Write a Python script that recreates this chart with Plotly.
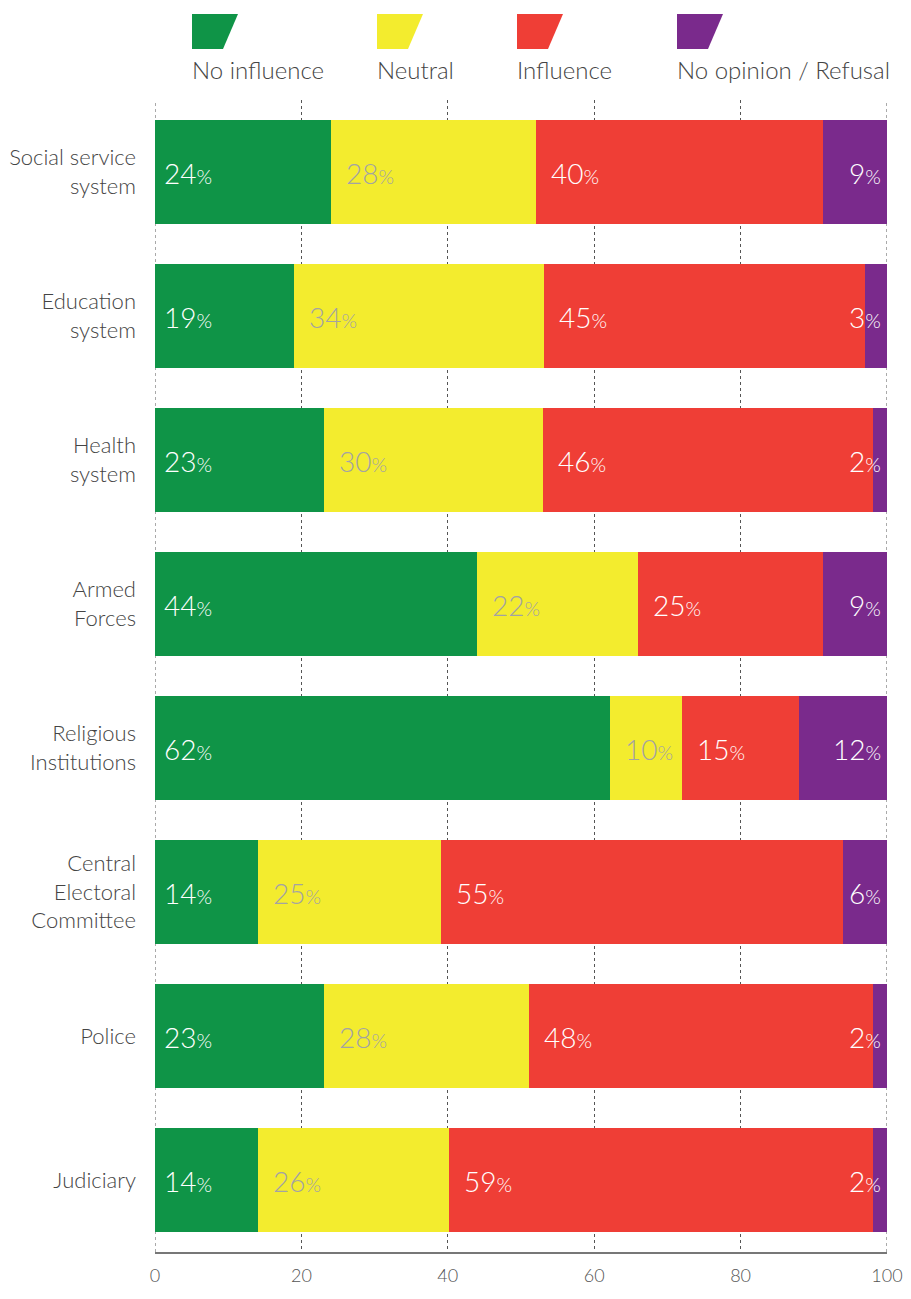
import plotly.graph_objects as go

categories = ["Social service<br>system", "Education<br>system", "Health<br>system", "Armed<br>Forces",
              "Religious<br>Institutions", "Central<br>Electoral<br>Committee", "Police", "Judiciary"]
series_names = ["No influence", "Neutral", "Influence", "No opinion / Refusal"]
# rounded percentages as printed on the bars
no_influence = [24, 19, 23, 44, 62, 14, 23, 14]
neutral = [28, 34, 30, 22, 10, 25, 28, 26]
influence = [40, 45, 46, 25, 15, 55, 48, 59]
no_opinion = [9, 3, 2, 9, 12, 6, 2, 2]
# segment lengths as drawn in the picture (unrounded shares)
no_influence_len = [24.0, 19.0, 23.1, 44.0, 62.1, 14.1, 23.1, 14.1]
neutral_len = [28.0, 34.1, 29.9, 22.0, 9.9, 25.0, 28.0, 26.0]
influence_len = [39.2, 43.9, 45.1, 25.2, 16.0, 54.9, 47.0, 58.0]
no_opinion_len = [8.8, 3.0, 1.9, 8.8, 12.0, 6.0, 1.9, 1.9]
x_ticks = [0, 20, 40, 60, 80, 100]

colors = ["#0F9447", "#F3EC2E", "#EF3E36", "#7A2A8C"]
label_colors = ["white", "#A3A3A3", "white", "white"]
FONT = "Lato"

series = [no_influence, neutral, influence, no_opinion]
lengths = [no_influence_len, neutral_len, influence_len, no_opinion_len]
fig = go.Figure()
for name, vals, col in zip(series_names, lengths, colors):
    fig.add_trace(go.Bar(y=categories, x=vals, name=name, orientation="h",
                         marker=dict(color=col, line=dict(width=0)), width=0.72,
                         showlegend=False))

def lab(v):
    return f'{v}<span style="font-size:20px">%</span>'

annotations = []
for i, cat in enumerate(categories):
    start = 0
    for s in range(4):
        v = series[s][i]
        if s < 3:
            annotations.append(dict(x=start, y=cat, xref="x", yref="y", text=lab(v),
                                    showarrow=False, xanchor="left", yanchor="middle",
                                    xshift=7 if s == 0 else 13, yshift=-1,
                                    font=dict(family=FONT, size=28, color=label_colors[s], weight=300)))
        else:
            annotations.append(dict(x=100, y=cat, xref="x", yref="y", text=lab(v),
                                    showarrow=False, xanchor="right", yanchor="middle",
                                    xshift=-4, yshift=-1,
                                    font=dict(family=FONT, size=28, color=label_colors[s], weight=300)))
        start += lengths[s][i]

# page body has an 8px margin on every side: keep the figure inside the window
OFF = 8
FW, FH = 911 - 2 * OFF, 1299 - 2 * OFF
L, R, B, T = 155, 887, 1252, 100   # plot area edges in screenshot pixels
W, H = R - L, B - T
def px(x):
    return (x - L) / W
def py(y):
    return (B - y) / H

legend_x = [192, 377, 517, 677]
shapes = []
for lx, col, name in zip(legend_x, colors, series_names):
    path = (f"M {px(lx)} {py(14)} L {px(lx + 46)} {py(14)} L {px(lx + 31)} {py(49)} "
            f"L {px(lx)} {py(49)} Z")
    shapes.append(dict(type="path", xref="paper", yref="paper", path=path,
                       fillcolor=col, line=dict(width=0)))
    annotations.append(dict(x=px(lx - 2), y=py(70), xref="paper", yref="paper", text=name,
                            showarrow=False, xanchor="left", yanchor="middle",
                            font=dict(family=FONT, size=24, color="#444444", weight=300)))

for xv in (x_ticks[0], x_ticks[-1]):
    shapes.append(dict(type="line", xref="x", yref="paper", x0=xv, x1=xv, y0=0, y1=1,
                       layer="below", line=dict(color="#555555", width=1, dash="dot")))

fig.update_layout(
    barmode="stack",
    width=FW, height=FH,
    margin=dict(l=L - OFF, r=(OFF + FW) - R, t=T - OFF, b=(OFF + FH) - B, autoexpand=False),
    plot_bgcolor="white", paper_bgcolor="white",
    font=dict(family=FONT, color="#444444", weight=300),
    annotations=annotations,
    shapes=shapes,
    xaxis=dict(range=[0, 100], tickvals=x_ticks, showgrid=True, gridcolor="#555555",
               griddash="dot", gridwidth=1, zeroline=False, showline=True,
               linecolor="#777777", linewidth=1.5, ticks="", ticklabelstandoff=7,
               automargin=False, ticklabeloverflow="allow",
               tickfont=dict(family=FONT, size=18, color="#555555", weight=300)),
    yaxis=dict(range=[7.5, -0.5], showgrid=False, zeroline=False, ticks="",
               ticklabelstandoff=18, automargin=False,
               tickfont=dict(family=FONT, size=22, color="#444444", weight=300)),
)

fig.write_html("out.html")
